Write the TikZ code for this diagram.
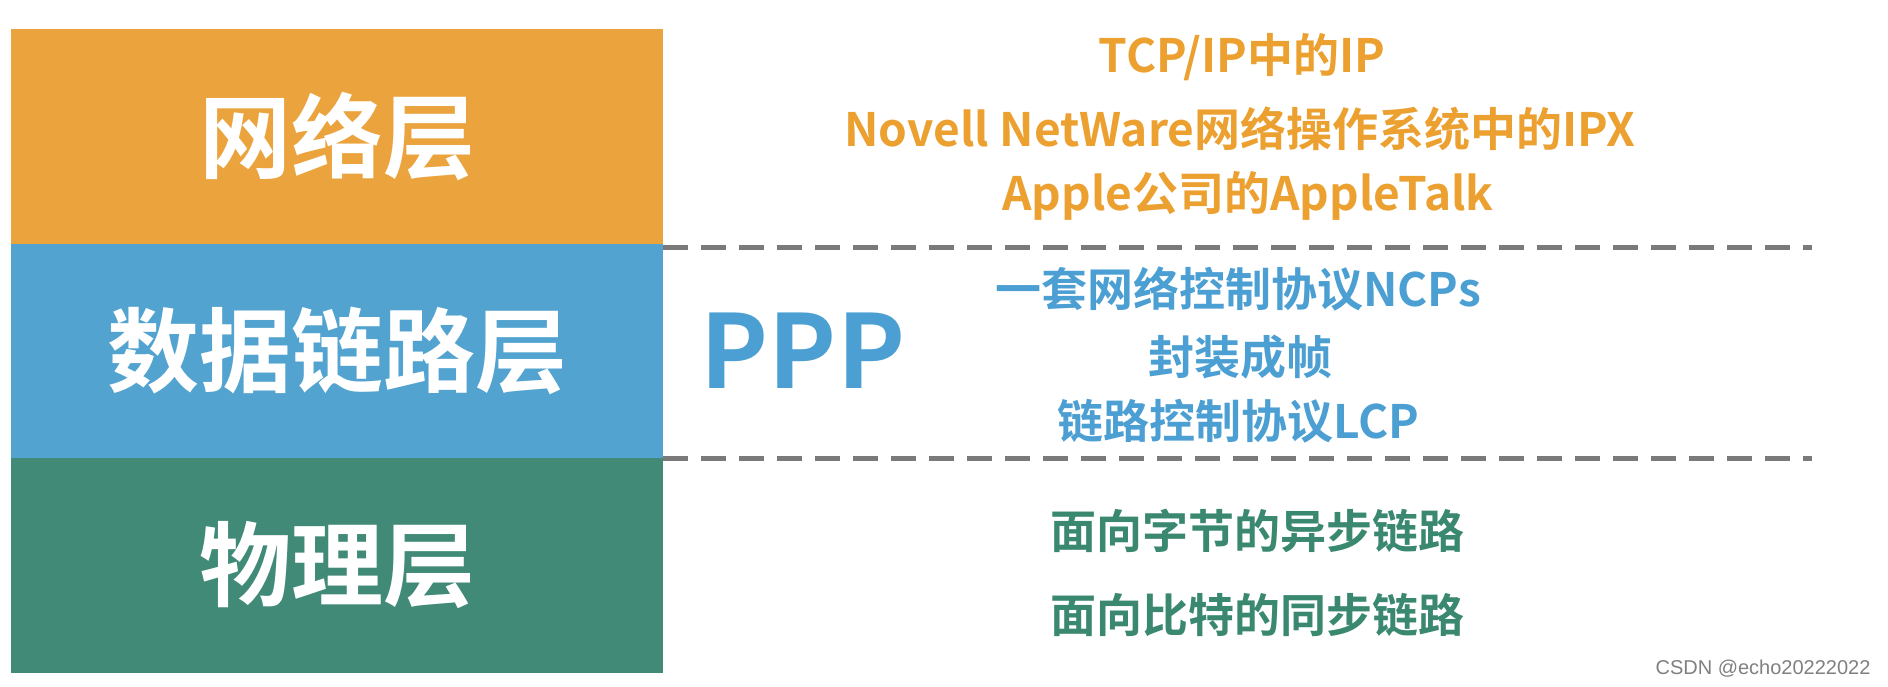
\documentclass[tikz,border=0pt]{standalone}
\usepackage{fontspec}
\setmainfont{Noto Sans CJK SC}[BoldFont={Noto Sans CJK SC Bold}]
\newfontfamily\wmfont{Liberation Sans}
\definecolor{netor}{HTML}{EBA33D}
\definecolor{dlblue}{HTML}{52A3CF}
\definecolor{phgreen}{HTML}{408A77}
\definecolor{txor}{HTML}{EBA02F}
\definecolor{txblue}{HTML}{4B9FD3}
\definecolor{txgreen}{HTML}{3A8870}
\definecolor{dashgray}{HTML}{7A7A7A}
\tikzset{
  layer/.style={inner sep=0pt, minimum width=326pt, minimum height=107.5pt, text=white,
    font=\bfseries\fontsize{46}{50}\selectfont},
  desc/.style={inner sep=0pt, font=\bfseries\fontsize{23}{27}\selectfont},
  sepline/.style={draw=dashgray, line width=2.5pt, dash pattern=on 12.5pt off 6.5pt},
}
\begin{document}
\begin{tikzpicture}[x=0.5pt,y=-0.5pt]
\useasboundingbox[fill=white] (0,0) rectangle (1888,686);
\node[layer, fill=netor] (net) at (337,136.5) {网络层};
\node[layer, fill=dlblue] (dl) at (337,351) {数据链路层};
\node[layer, fill=phgreen] (ph) at (337,565.5) {物理层};
\coordinate (d1e) at (1812,247);
\coordinate (d2e) at (1812,458);
\draw[sepline] (net.south east |- d1e) -- (d1e);
\draw[sepline] (dl.south east |- d2e) -- (d2e);
\node[desc, text=txor] (t1) at (1242,57) {TCP/IP中的IP};
\node[desc, text=txor] (t2) at (1240,129) {Novell NetWare网络操作系统中的IPX};
\node[desc, text=txor] (t3) at (1248,196) {Apple公司的AppleTalk};
\node[inner sep=0pt, text=txblue, font=\bfseries\fontsize{51}{56}\selectfont] (ppp) at (803,351) {PPP};
\node[desc, text=txblue] (t4) at (1238,289) {一套网络控制协议NCPs};
\node[desc, text=txblue] (t5) at (1240,357) {封装成帧};
\node[desc, text=txblue] (t6) at (1238,421) {链路控制协议LCP};
\node[desc, text=txgreen] (t7) at (1257,531) {面向字节的异步链路};
\node[desc, text=txgreen] (t8) at (1257,615) {面向比特的同步链路};
\node[inner sep=0pt, text=gray, font=\wmfont\fontsize{10}{12}\selectfont] (wm) at (1763,669) {CSDN @echo20222022};
\end{tikzpicture}
\end{document}
